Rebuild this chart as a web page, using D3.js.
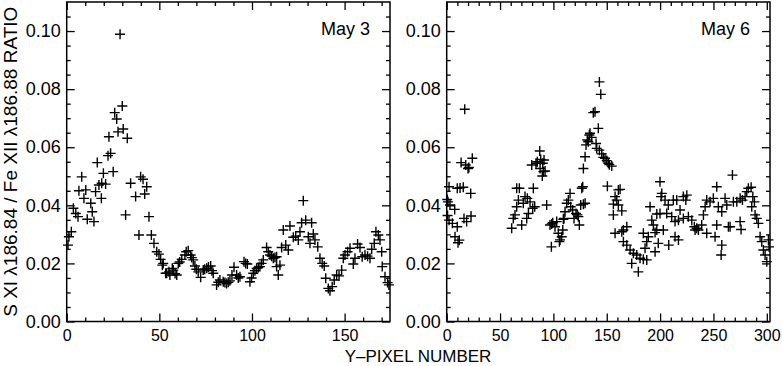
<!DOCTYPE html>
<html>
<head>
<meta charset="utf-8">
<script src="https://cdn.jsdelivr.net/npm/d3@7"></script>
<style>
  body { margin: 0; background: white; }
  text { font-family: "Liberation Sans", Arial, Helvetica, sans-serif; fill: black; }
</style>
</head>
<body>
<div id="chart"></div>
<script>
// y-pixel number vs S XI / Fe XII ratio
var may3Points = [
  [0.7,.0263],[1.2,.0292],[2.5,.0309],[3.6,.0390],[4.9,.0372],[6.1,.0361],[6.6,.0450],[8.1,.0498],
  [9.3,.0424],[10.3,.0453],[11.1,.0352],[13.0,.0407],[13.8,.0378],[14.7,.0344],[15.6,.0447],[16.5,.0547],
  [17.4,.0470],[18.7,.0424],[18.9,.0476],[19.8,.0510],[21.0,.0473],[22.3,.0571],[22.8,.0636],[23.7,.0579],
  [25.1,.0516],[25.9,.0719],[27.0,.0697],[27.7,.0653],[28.8,.0989],[30.0,.0742],[30.5,.0663],[31.8,.0367],
  [32.7,.0631],[34.5,.0476],[37.2,.0430],[39.0,.0298],[39.9,.0498],[41.2,.0490],[42.1,.0439],[43.2,.0464],
  [44.4,.0361],[45.7,.0298],[47.1,.0269],[48.6,.0240],[49.8,.0232],[50.7,.0214],[51.6,.0194],[52.1,.0200],
  [53.4,.0166],[54.0,.0166],[55.2,.0171],[55.7,.0160],[57.0,.0183],[57.5,.0177],[58.5,.0165],[59.4,.0160],
  [60.2,.0200],[61.0,.0205],[62.1,.0214],[63.8,.0229],[64.5,.0240],[65.6,.0244],[66.9,.0229],[67.5,.0220],
  [68.3,.0212],[69.2,.0191],[70.0,.0180],[71.0,.0171],[72.3,.0152],[73.7,.0177],[74.5,.0180],[75.6,.0183],
  [76.5,.0188],[77.7,.0191],[78.4,.0175],[79.1,.0166],[80.9,.0126],[81.8,.0135],[82.7,.0143],[84.5,.0137],
  [85.4,.0134],[86.3,.0131],[87.2,.0135],[88.1,.0140],[89.2,.0160],[90.3,.0187],[91.7,.0160],[92.6,.0150],
  [93.5,.0154],[95.7,.0206],[96.6,.0200],[97.5,.0198],[98.9,.0137],[99.8,.0150],[100.7,.0166],[101.6,.0175],
  [102.5,.0183],[103.4,.0186],[104.3,.0189],[105.2,.0200],[106.1,.0212],[107.9,.0255],[108.8,.0240],[109.7,.0229],
  [110.6,.0225],[111.5,.0218],[112.4,.0220],[113.3,.0223],[113.3,.0189],[114.2,.0160],[115.1,.0194],[116.0,.0255],
  [116.9,.0315],[118.2,.0263],[119.6,.0246],[120.5,.0329],[122.3,.0290],[123.6,.0294],[125.0,.0281],[125.9,.0309],
  [126.8,.0340],[127.7,.0416],[129.0,.0349],[130.4,.0292],[131.3,.0269],[132.2,.0340],[133.1,.0301],[134.0,.0281],
  [135.5,.0257],[136.7,.0218],[137.9,.0200],[139.0,.0191],[139.8,.0149],[141.2,.0114],[142.1,.0106],[143.3,.0120],
  [144.4,.0143],[145.7,.0160],[147.0,.0157],[148.4,.0177],[149.3,.0218],[150.2,.0229],[151.6,.0240],[152.9,.0252],
  [154.7,.0198],[155.6,.0218],[157.0,.0267],[158.3,.0255],[159.5,.0223],[161.0,.0229],[162.4,.0225],[163.7,.0218],
  [164.6,.0249],[166.0,.0269],[166.9,.0309],[168.2,.0298],[169.1,.0281],[170.0,.0240],[170.3,.0189],[171.8,.0154],
  [173.2,.0134],[173.9,.0126]
];

var may6Points = [
  [0.5,.0420],[0.8,.0365],[1.2,.0412],[2.2,.0464],[2.2,.0349],[3.1,.0401],[5.3,.0338],[7.5,.0386],
  [7.8,.0292],[9.9,.0459],[9.9,.0326],[10.6,.0271],[11.8,.0280],[12.5,.0460],[13.5,.0547],[15.5,.0462],
  [16.2,.0355],[16.9,.0731],[17.8,.0539],[18.7,.0344],[20.0,.0527],[20.8,.0530],[22.5,.0441],[22.8,.0363],
  [24.0,.0562],
  [60.9,.0321],[62.4,.0355],[64.0,.0367],[65.6,.0395],[65.6,.0459],[67.2,.0418],[68.1,.0459],[70.3,.0332],
  [71.8,.0407],[73.4,.0430],[75.0,.0355],[75.6,.0424],[76.6,.0372],[78.1,.0412],[79.7,.0539],[80.6,.0390],
  [81.2,.0459],[82.5,.0395],[83.7,.0545],[84.9,.0550],[87.2,.0587],[87.5,.0527],[88.1,.0558],[89.6,.0501],
  [90.0,.0545],[90.6,.0516],[91.2,.0556],[92.2,.0518],[93.7,.0401],[96.8,.0332],[98.1,.0257],
  [98.4,.0336],[99.4,.0340],[101.5,.0326],[103.1,.0344],[104.6,.0304],[105.6,.0275],[106.2,.0281],[107.8,.0292],
  [108.8,.0315],[109.3,.0352],[110.0,.0355],[110.9,.0378],[112.5,.0407],[114.0,.0418],[115.6,.0441],[116.2,.0395],
  [118.1,.0384],[119.3,.0355],[121.2,.0372],[122.5,.0367],[123.4,.0361],[124.3,.0332],[125.6,.0401],[126.6,.0459],
  [127.5,.0464],[128.1,.0527],[128.1,.0404],[129.7,.0567],[129.7,.0407],[130.6,.0608],[131.8,.0625],[132.7,.0619],
  [133.7,.0642],[134.3,.0648],[135.9,.0634],[137.4,.0719],[139.0,.0722],[140.0,.0613],[140.6,.0596],[142.1,.0665],
  [143.1,.0825],[144.4,.0782],[143.1,.0590],[145.3,.0577],[146.8,.0565],[148.4,.0562],[150.0,.0554],[151.5,.0545],
  [152.4,.0540],[154.7,.0535],[150.6,.0466],[156.2,.0404],[156.2,.0367],[157.8,.0430],[157.8,.0304],[159.4,.0418],
  [160.9,.0401],[160.9,.0453],[162.5,.0455],[164.1,.0381],[164.1,.0309],[165.6,.0275],[165.6,.0315],[168.8,.0326],
  [168.8,.0263],[171.9,.0246],[173.4,.0200],[175.0,.0235],[178.1,.0229],[179.6,.0171],[181.2,.0218],[184.3,.0304],
  [184.3,.0214],[185.9,.0252],[187.5,.0275],[187.5,.0212],[189.0,.0292],[190.6,.0395],[192.2,.0349],[193.7,.0332],
  [195.3,.0306],[195.3,.0240],[196.9,.0370],[196.9,.0315],[198.3,.0269],[199.9,.0481],[199.9,.0372],[200.9,.0430],
  [201.6,.0441],[203.0,.0315],[204.6,.0418],[206.2,.0372],[207.7,.0401],[208.1,.0263],[210.9,.0361],[212.4,.0418],
  [214.0,.0344],[214.0,.0292],[215.6,.0418],[217.2,.0349],[217.2,.0281],[218.7,.0384],[221.8,.0430],[221.8,.0355],
  [224.1,.0418],[225.0,.0435],[226.5,.0361],[229.7,.0349],[232.1,.0326],[232.8,.0315],[234.3,.0321],[235.9,.0315],
  [239.0,.0332],[240.6,.0367],[242.2,.0395],[243.7,.0418],[243.7,.0304],[246.8,.0412],[249.9,.0424],[251.5,.0292],
  [253.1,.0464],[253.1,.0332],[254.6,.0395],[257.2,.0229],[257.8,.0378],[257.8,.0263],[260.9,.0424],[262.5,.0401],
  [264.0,.0326],[265.6,.0326],[267.8,.0504],[268.7,.0412],[271.9,.0412],[275.0,.0424],[275.0,.0344],[275.9,.0317],
  [277.2,.0418],[279.7,.0430],[281.2,.0447],[282.7,.0459],[285.3,.0462],[285.9,.0395],[286.9,.0430],[288.4,.0412],
  [289.0,.0367],[290.6,.0355],[292.1,.0338],[293.7,.0292],[295.3,.0275],[296.8,.0246],[298.4,.0229],[300.0,.0206],
  [301.5,.0281],[302.1,.0257]
];

var yTicks = [0, 0.02, 0.04, 0.06, 0.08, 0.10];
var xTicksMay3 = [0, 50, 100, 150];
var xTicksMay6 = [0, 50, 100, 150, 200, 250, 300];
var yTitle = "S XI \u03bb186.84 / Fe XII \u03bb186.88 RATIO";
var xTitle = "Y\u2013PIXEL NUMBER";

var width = 782, height = 366;
var font_size = "18px";

var svg = d3.select("#chart").append("svg")
    .attr("width", width)
    .attr("height", height);

var y = d3.scaleLinear().domain([0, 0.11]).range([321.5, 2]);

function draw_panel(points, xmax, x0, x1, xticks, label) {
  var x = d3.scaleLinear().domain([0, xmax]).range([x0, x1]);
  var g = svg.append("g");
  var xminor = d3.range(0, xmax, 10).filter(function(v) { return v % 50 != 0; });
  var yminor = d3.range(0, 0.11, 0.005).filter(function(v) { return Math.abs(v / 0.02 - Math.round(v / 0.02)) > 0.01; });

  // ticks point inward on all four sides
  function add_axis(axis, tr, labels, fs) {
    var a = g.append("g").attr("transform", tr).call(axis);
    a.select(".domain").remove();
    a.selectAll("line").attr("stroke", "black").attr("stroke-width", 1.3);
    if (!labels) a.selectAll("text").remove();
    else a.selectAll("text").attr("font-size", fs || font_size).attr("font-family", null);
    return a;
  }
  var fmt = function(d) { return d.toFixed(2); };

  add_axis(d3.axisBottom(x).tickValues(xticks).tickSize(-8).tickPadding(8).tickFormat(d3.format("d")),
    "translate(0," + y(0) + ")", true, "16px");
  add_axis(d3.axisBottom(x).tickValues(xminor).tickSize(-4), "translate(0," + y(0) + ")", false);
  add_axis(d3.axisTop(x).tickValues(xticks).tickSize(-8), "translate(0," + y(0.11) + ")", false);
  add_axis(d3.axisTop(x).tickValues(xminor).tickSize(-4), "translate(0," + y(0.11) + ")", false);
  add_axis(d3.axisLeft(y).tickValues(yTicks).tickSize(-8).tickPadding(6).tickFormat(fmt),
    "translate(" + x0 + ",0)", true);
  add_axis(d3.axisLeft(y).tickValues(yminor).tickSize(-4), "translate(" + x0 + ",0)", false);
  add_axis(d3.axisRight(y).tickValues(yTicks).tickSize(-8), "translate(" + x1 + ",0)", false);
  add_axis(d3.axisRight(y).tickValues(yminor).tickSize(-4), "translate(" + x1 + ",0)", false);

  g.append("rect")
      .attr("x", x0).attr("y", y(0.11))
      .attr("width", x1 - x0).attr("height", y(0) - y(0.11))
      .attr("fill", "none").attr("stroke", "black").attr("stroke-width", 1.5);

  g.selectAll(".pt")
      .data(points)
    .enter().append("path")
      .attr("class", "pt")
      .attr("transform", function(d) { return "translate(" + x(d[0]) + "," + y(d[1]) + ")"; })
      .attr("d", "M-5,0H5M0,-5V5")
      .attr("stroke", "black")
      .attr("stroke-width", 1.4)
      .attr("fill", "none");

  g.append("text")
      .attr("x", x1 - 20)
      .attr("y", 35)
      .attr("text-anchor", "end")
      .attr("font-size", font_size)
      .text(label);
}

draw_panel(may3Points, 174.5, 66.7, 390, xTicksMay3, "May 3");
draw_panel(may6Points, 303, 446.7, 770, xTicksMay6, "May 6");

svg.append("text")
    .attr("transform", "translate(17," + y(0.055) + ")rotate(-90)")
    .attr("text-anchor", "middle")
    .attr("font-size", "19px")
    .text(yTitle);

svg.append("text")
    .attr("x", 418)
    .attr("y", 362)
    .attr("text-anchor", "middle")
    .attr("font-size", "17px")
    .text(xTitle);
</script>
</body>
</html>
